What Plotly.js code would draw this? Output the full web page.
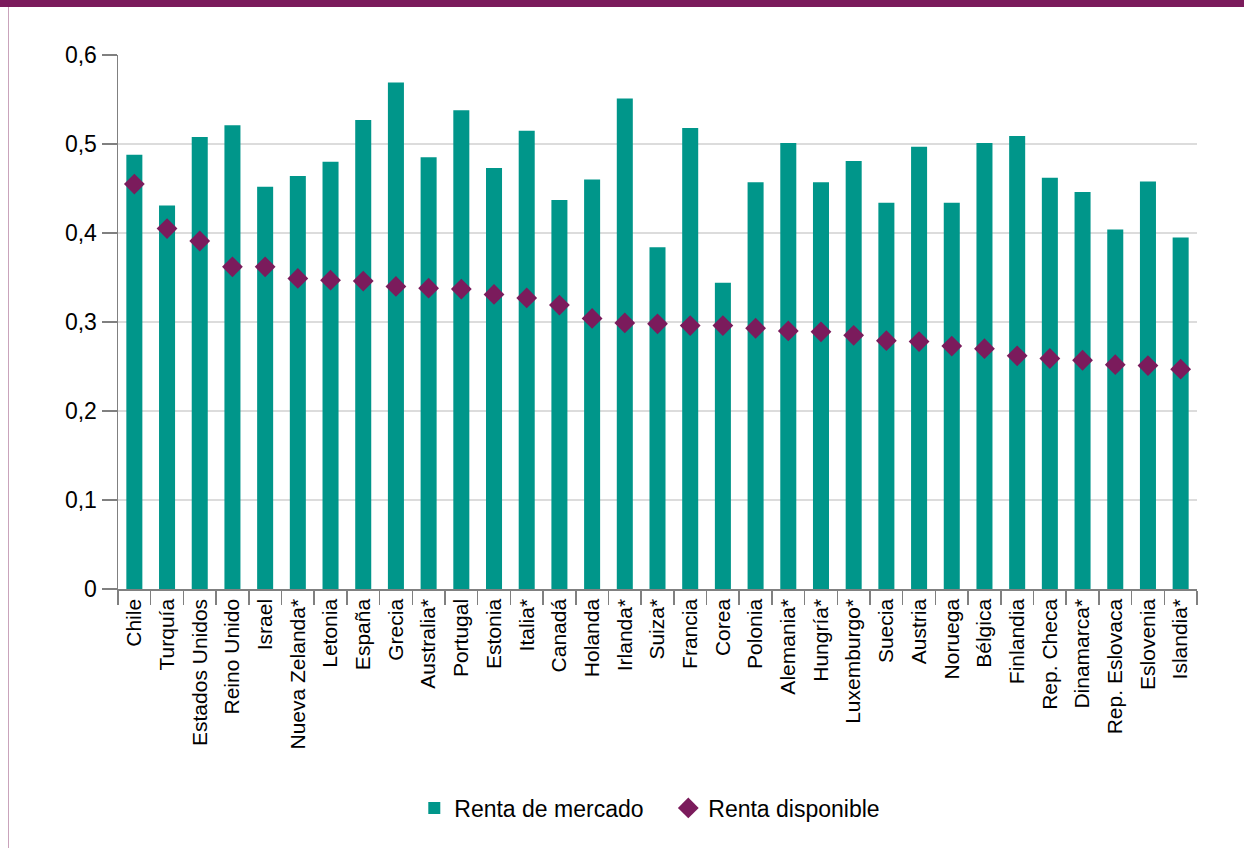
<!DOCTYPE html>
<html>
<head>
<meta charset="utf-8">
<script src="https://cdn.plot.ly/plotly-3.0.1.min.js"></script>
<style>
  html, body { margin: 0; padding: 0; background: #ffffff; }
  #wrap { position: relative; width: 1244px; height: 848px; overflow: hidden; }
  #chart { position: absolute; left: 0; top: 0; width: 1244px; height: 848px; }
  #topbar { position: absolute; left: 0; top: 0; width: 1244px; height: 7px; background: #7b1b5c; z-index: 5; }
  #leftline { position: absolute; left: 8px; top: 7px; width: 1px; height: 841px; background: #c9a3bb; z-index: 5; }
</style>
</head>
<body>
<div id="wrap">
  <div id="chart"></div>
  <div id="topbar"></div>
  <div id="leftline"></div>
</div>
<script>
const categories = ["Chile","Turquía","Estados Unidos","Reino Unido","Israel","Nueva Zelanda*","Letonia","España","Grecia","Australia*","Portugal","Estonia","Italia*","Canadá","Holanda","Irlanda*","Suiza*","Francia","Corea","Polonia","Alemania*","Hungría*","Luxemburgo*","Suecia","Austria","Noruega","Bélgica","Finlandia","Rep. Checa","Dinamarca*","Rep. Eslovaca","Eslovenia","Islandia*"];
const rentaMercado = [0.488,0.431,0.508,0.521,0.452,0.464,0.480,0.527,0.569,0.485,0.538,0.473,0.515,0.437,0.460,0.551,0.384,0.518,0.344,0.457,0.501,0.457,0.481,0.434,0.497,0.434,0.501,0.509,0.462,0.446,0.404,0.458,0.395];
const rentaDisponible = [0.455,0.405,0.391,0.362,0.362,0.349,0.347,0.346,0.340,0.338,0.337,0.331,0.327,0.319,0.304,0.299,0.298,0.296,0.296,0.293,0.290,0.289,0.285,0.279,0.278,0.273,0.270,0.262,0.259,0.257,0.252,0.251,0.247];
const seriesNames = ["Renta de mercado", "Renta disponible"];
const yTicks = [0, 0.1, 0.2, 0.3, 0.4, 0.5, 0.6];
const yTickLabels = ["0", "0,1", "0,2", "0,3", "0,4", "0,5", "0,6"];

const teal = "#00968a";
const purple = "#7b1b5c";
const axisGrey = "#808080";
const fontFam = "Liberation Sans, Arial, sans-serif";

const traces = [
  {
    type: "bar",
    name: seriesNames[0],
    x: categories,
    y: rentaMercado,
    marker: { color: teal, line: { width: 0 } },
    hoverinfo: "x+y"
  },
  {
    type: "scatter",
    mode: "markers",
    name: seriesNames[1],
    x: categories,
    y: rentaDisponible,
    marker: { symbol: "diamond", size: 16, color: purple, line: { width: 0 } },
    hoverinfo: "x+y"
  }
];

const layout = {
  width: 1244,
  height: 848,
  paper_bgcolor: "rgba(0,0,0,0)",
  plot_bgcolor: "#ffffff",
  margin: { l: 118, r: 47, t: 55, b: 259, pad: 0 },
  bargap: 0.51,
  showlegend: true,
  font: { family: fontFam, color: "#000000", size: 20 },
  xaxis: {
    type: "category",
    range: [-0.5, categories.length - 0.5],
    autorange: false,
    tickangle: -90,
    tickson: "boundaries",
    ticks: "outside",
    ticklen: 14,
    tickwidth: 1.5,
    tickcolor: axisGrey,
    showline: true,
    linecolor: axisGrey,
    linewidth: 1.5,
    showgrid: false,
    tickfont: { family: fontFam, size: 21, color: "#000000" },
    automargin: false
  },
  yaxis: {
    range: [0, 0.6],
    autorange: false,
    tickvals: yTicks,
    ticktext: yTickLabels,
    ticks: "outside",
    ticklen: 15,
    tickwidth: 1.5,
    tickcolor: axisGrey,
    showline: true,
    linecolor: axisGrey,
    linewidth: 1.5,
    showgrid: true,
    gridcolor: "#dcdcdc",
    gridwidth: 1.5,
    zeroline: false,
    tickfont: { family: fontFam, size: 23, color: "#000000" },
    automargin: false
  },
  legend: {
    orientation: "h",
    x: 0.51,
    xanchor: "center",
    y: -0.41,
    yanchor: "middle",
    font: { family: fontFam, size: 23, color: "#000000" },
    bgcolor: "rgba(0,0,0,0)",
    itemwidth: 30,
    entrywidth: 209,
    traceorder: "normal"
  }
};

Plotly.newPlot("chart", traces, layout, { displayModeBar: false, staticPlot: true });
</script>
</body>
</html>
